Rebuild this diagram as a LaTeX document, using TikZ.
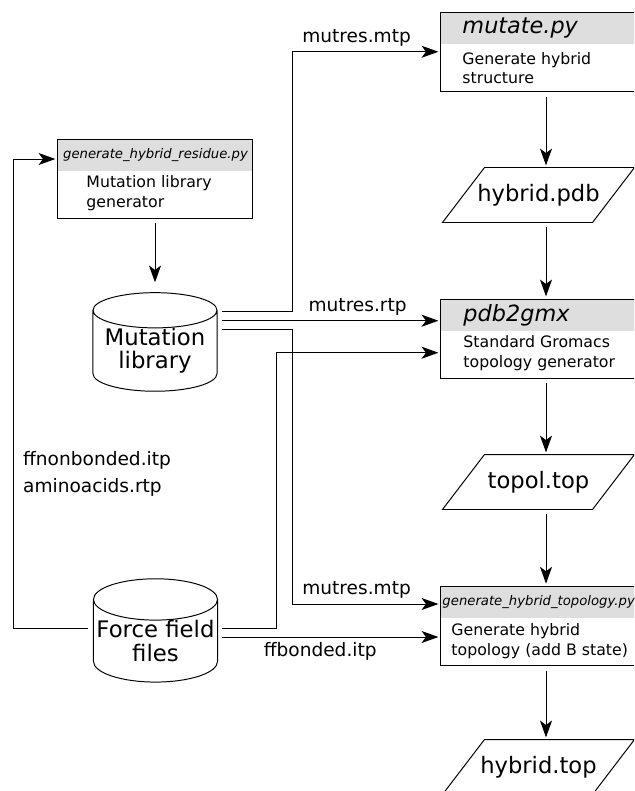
\documentclass[tikz,border=0pt]{standalone}
\usepackage{fontspec}
\setmainfont{DejaVu Sans}
\usetikzlibrary{arrows.meta,shapes.geometric}

\begin{document}
\begin{tikzpicture}[x=0.025cm, y=-0.025cm, line width=0.7pt,
    >={Stealth[length=4.2mm,width=3mm,inset=1.1mm]},
    flow/.style={->, shorten >=1.5pt},
    procbox/.style={draw, fill=white, inner sep=0pt, minimum width=5.25cm, minimum height=1.975cm,
      path picture={\fill[black!13] (path picture bounding box.north west) rectangle ([yshift=-0.8cm]path picture bounding box.north east);}},
    proctitle/.style={anchor=west, inner sep=0pt, font=\fontsize{15.9}{18}\selectfont\itshape},
    smalltitle/.style={proctitle, font=\fontsize{9.4}{11}\selectfont\itshape},
    proctext/.style={anchor=west, inner sep=0pt, align=left, font=\fontsize{11.2}{13.8}\selectfont},
    datafile/.style={minimum width=3.725cm, minimum height=1.35cm, inner sep=0pt, font=\fontsize{16.1}{18}\selectfont,
      append after command={\pgfextra{\let\df\tikzlastnode
        \draw ([xshift=0.525cm]\df.north west) -- ([xshift=0.525cm]\df.north east)
          -- ([xshift=-0.525cm]\df.south east) -- ([xshift=-0.525cm]\df.south west) -- cycle;}}},
    store/.style={draw, cylinder, shape border rotate=90, aspect=0.35, minimum width=3.1cm, minimum height=2.2cm,
      inner sep=0pt, align=center, font=\fontsize{16.2}{16.5}\selectfont},
    filelabel/.style={font=\fontsize{13.2}{19}\selectfont}]

\useasboundingbox (0,0) rectangle (634,791);
\clip (0,0) rectangle (634,791);

% programs
\node[procbox] (mutate) at (546,51.75) {};
\node[proctitle] (mutate-t) at (462,28) {mutate.py};
\node[proctext] (mutate-d) at (462,68) {Generate hybrid\\structure};

\node[procbox] (gmx) at (546,338.5) {};
\node[proctitle] (gmx-t) at (463,315) {pdb2gmx};
\node[proctext] (gmx-d) at (463,353) {Standard Gromacs\\topology generator};

\node[procbox] (gentop) at (546,625.75) {};
\node[smalltitle] (gentop-t) at (442,602) {generate\_hybrid\_topology.py};
\node[proctext] (gentop-d) at (451,641) {Generate hybrid\\topology (add B state)};

\node[procbox, minimum width=4.85cm] (genres) at (155,178.5) {};
\node[smalltitle] (genres-t) at (62.7,155.5) {generate\_hybrid\_residue.py};
\node[proctext] (genres-d) at (86,193) {Mutation library\\generator};

% files
\node[datafile] (pdb) at (538.5,195) {hybrid.pdb};
\node[datafile] (top) at (538.5,482) {topol.top};
\node[datafile] (hybtop) at (538.5,767) {hybrid.top};

\node[store] (mutlib) at (155,351) {Mutation\\library};
\node[store] (ff) at (155.5,641) {Force field\\files};

\node[filelabel, anchor=west, align=left, inner sep=0pt] (ffnb) at (22.7,474) {ffnonbonded.itp\\aminoacids.rtp};

% ports and bus lines
\coordinate (mutlib-o1) at ([shift={(67,-39.3)}]mutlib.center);
\coordinate (mutlib-o2) at ([shift={(67,-30.3)}]mutlib.center);
\coordinate (mutlib-o3) at ([shift={(67,-22)}]mutlib.center);
\coordinate (ff-o0) at ([shift={(-67.5,-13)}]ff.center);
\coordinate (ff-o1) at ([shift={(66.5,-13)}]ff.center);
\coordinate (ff-o2) at ([shift={(66.5,-4)}]ff.center);
\coordinate (gmx-i2) at ([shift={(0,14.2)}]gmx.west);
\coordinate (gentop-i1) at ([shift={(0,-21.75)}]gentop.west);
\coordinate (genres-i) at ([shift={(0,-19.5)}]genres.west);
\coordinate (mtpbus) at (292.7,0);
\coordinate (ffbus) at (276,0);
\coordinate (loopbus) at (13,0);

% main column
\draw[flow, shorten <=3.5pt] (mutate.south) -- (mutate.south |- pdb.north);
\draw[flow, shorten <=3.5pt] (mutate.south |- pdb.south) -- (gmx.north);
\draw[flow, shorten <=3.5pt] (gmx.south) -- (gmx.south |- top.north);
\draw[flow, shorten <=3.5pt] (gmx.south |- top.south) -- (gentop.north);
\draw[flow, shorten <=3.5pt] (gentop.south) -- (gentop.south |- hybtop.north);
\draw[flow, shorten <=3.5pt, shorten >=7pt] (genres.south) -- (genres.south |- mutlib.north);

% inputs
\draw[flow] (mutlib-o1) -| (mtpbus |- mutate.west) -- node[filelabel, above, xshift=-0.25cm] (mtp-a) {mutres.mtp} (mutate.west);
\draw[flow] (mutlib-o2) -- node[filelabel, above, xshift=0.66cm] (rtp) {mutres.rtp} (mutlib-o2 -| gmx.west);
\draw[flow] (mutlib-o3) -| (mtpbus |- gentop-i1) -- node[filelabel, above, xshift=-0.25cm] (mtp-b) {mutres.mtp} (gentop-i1);
\draw[flow] (ff-o1) -| (ffbus |- gmx-i2) -- (gmx-i2);
\draw[flow] (ff-o2) -- node[filelabel, below, xshift=-0.275cm] (ffb) {ffbonded.itp} (ff-o2 -| gentop.west);
\draw[flow] (ff-o0) -| (loopbus |- genres-i) -- (genres-i);
\end{tikzpicture}
\end{document}
